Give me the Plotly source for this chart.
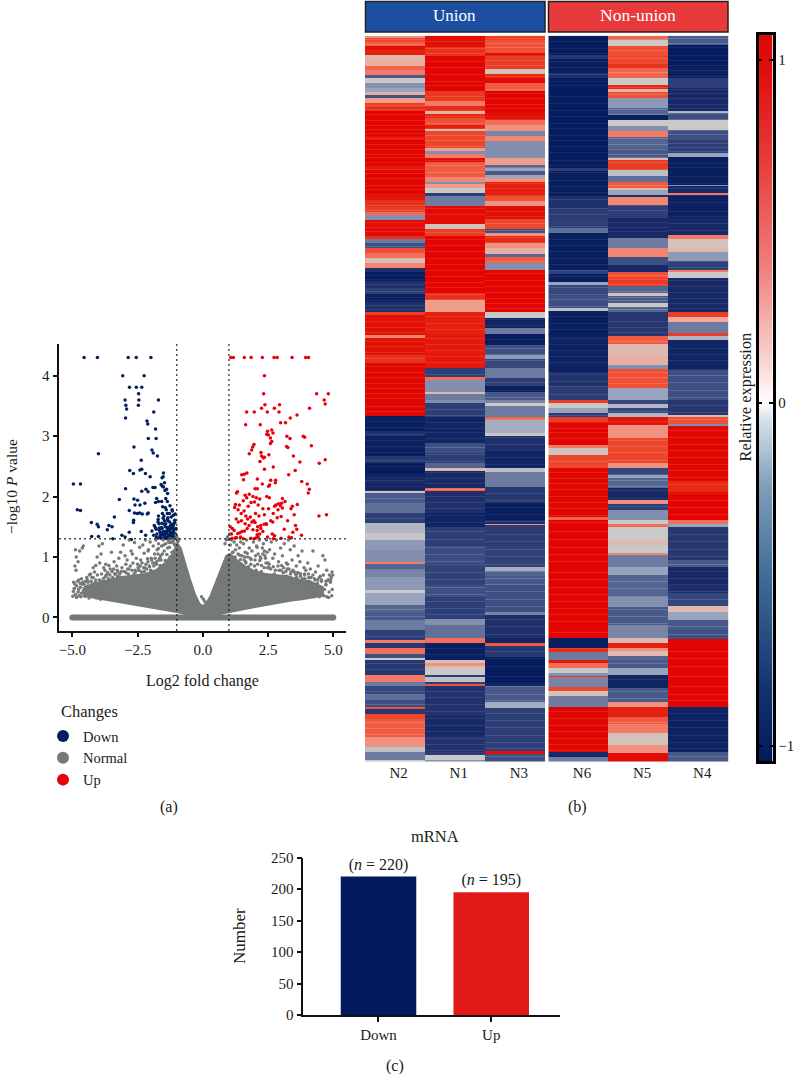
import plotly.graph_objects as go

W, H = 794, 1074
FONT = "Liberation Serif"

# ---------- (a) volcano ----------
down_x = [-4.55,-4.04,-2.86,-2.55,-1.99,-3.07,-2.25,-2.81,-2.55,-2.34,-2.46,-2.98,-1.7,-2.45,-2.95,-2.47,-2.92,-1.88,-2.96,-2.14,-2.11,-1.81,-2.09,-1.79,-2.64,-1.95,-1.9,-4.0,-1.74,-2.36,-2.41,-2.34,-2.8,-2.66,-2.2,
 -1.51,-1.52,-1.56,-2.02,-1.47,-1.6,-1.55,-4.96,-4.69,-2.96,-1.91,-1.83,-2.18,-2.34,-2.1,-1.51,-1.39,-1.45,-1.35,-2.64,-3.2,-2.5,-2.6,-2.22,-2.41,-1.77,-1.7,-1.81,-1.58,-1.42,-1.36,
 -2.82,-2.62,-2.51,-2.42,-2.32,-2.13,-2.09,-4.81,-4.69,-3.39,-2.65,-2.66,-4.27,-4.05,-4.0,-3.6,-3.48,-3.66,-2.36,-2.82,-2.19,-3.1,-2.98,-4.26,-4.0,-3.45,-2.74,
 -1.95,-1.88,-1.82,-1.76,-1.71,-1.66,-1.61,-1.57,-1.53,-1.49,-1.46,-1.43,-1.4,-1.37,-1.34,-1.31,-1.28,-1.25,-1.22,-1.19,-1.16,-1.13,-1.1,-1.07,-1.04,
 -1.86,-1.79,-1.74,-1.68,-1.63,-1.59,-1.55,-1.51,-1.47,-1.44,-1.41,-1.38,-1.35,-1.32,-1.29,-1.26,-1.23,-1.2,-1.17,-1.14,-1.11,-1.08,
 -1.78,-1.72,-1.67,-1.62,-1.58,-1.54,-1.5,-1.46,-1.42,-1.39,-1.36,-1.33,-1.3,-1.27,-1.24,-1.21,-1.18,-1.15,-1.12,-1.09,-1.06,
 -1.7,-1.64,-1.56,-1.48,-1.44,-1.4,-1.34,-1.3,-1.26,-1.22,-1.18,-1.14,-1.1,-1.05,-1.6,-1.52,-1.45,-1.37,-1.31,-1.27,-1.2,-1.13,-1.03,-1.44,-1.33,-1.24,-1.16]
down_y = [4.3,4.3,4.3,4.3,4.3,4.0,4.0,3.81,3.81,3.81,3.7,3.6,3.6,3.6,3.51,3.51,3.45,3.4,3.3,3.25,3.2,3.12,2.96,2.96,2.82,2.77,2.72,2.71,2.67,2.6,2.44,2.45,2.43,2.38,2.38,
 2.39,2.33,2.31,2.33,2.23,2.2,2.17,2.21,2.21,2.13,2.15,2.15,2.12,2.09,2.08,2.16,2.12,2.1,2.05,1.96,1.95,1.94,1.86,1.89,1.86,1.97,1.92,1.9,1.92,1.97,1.92,
 1.77,1.73,1.72,1.73,1.71,1.71,1.73,1.78,1.77,1.66,1.61,1.57,1.57,1.54,1.5,1.52,1.5,1.45,1.42,1.41,1.36,1.36,1.33,1.34,1.34,1.3,1.29,
 1.43,1.36,1.49,1.38,1.62,1.44,1.33,1.56,1.41,1.68,1.35,1.5,1.78,1.32,1.6,1.43,1.72,1.34,1.52,1.37,1.47,1.69,1.33,1.57,1.38,
 1.52,1.46,1.31,1.55,1.41,1.31,1.72,1.36,1.6,1.82,1.42,1.31,1.63,1.47,1.35,1.85,1.41,1.54,1.76,1.32,1.44,1.61,
 1.33,1.58,1.48,1.36,1.49,1.83,1.42,1.33,1.55,1.39,1.72,1.45,1.31,1.58,1.38,1.66,1.35,1.49,1.4,1.31,1.71,
 1.68,1.34,1.47,1.54,1.33,1.43,1.65,1.37,1.51,1.31,1.78,1.41,1.56,1.35,1.39,1.64,1.31,1.49,1.35,1.44,1.33,1.52,1.47,1.38,1.31,1.47,1.35]

up_x = [1.07,1.17,1.59,1.85,2.28,2.73,2.85,3.42,3.94,4.05,2.36,2.33,4.36,4.81,4.65,4.69,2.38,2.94,2.74,2.25,4.09,1.68,1.97,2.47,2.92,3.61,3.35,2.98,3.17,1.64,2.2,2.64,2.48,2.45,2.51,2.69,3.22,3.85,3.9,2.59,2.64,3.34,2.59,1.96,4.16,1.91,3.21,3.26,1.87,2.23,1.78,3.47,2.53,2.25,2.32,2.36,4.69,2.19,3.72,4.46,2.7,2.36,3.54,1.69,1.59,1.49,3.29,2.09,1.56,3.79,2.79,2.6,2.78,2.28,2.56,4.0,2.52,4.08,2.0,2.09,4.04,1.33,1.29,
 1.62,1.78,1.92,2.05,2.18,2.45,2.55,2.8,3.05,3.15,3.02,3.62,3.43,2.9,2.75,1.25,1.4,1.55,1.68,1.74,1.85,1.98,2.12,2.3,2.52,2.7,2.88,2.97,3.05,3.38,4.74,4.45,3.5,
 1.22,1.35,1.47,1.58,1.65,1.72,1.82,1.95,2.02,2.15,2.36,2.42,2.6,2.85,3.0,3.25,3.55,1.05,1.13,1.28,1.36,1.48,1.62,1.77,1.88,2.0,2.1,2.22,2.35,2.44,2.68,3.12,3.45,3.6,
 1.1,1.2,1.3,1.42,1.55,1.7,1.92,2.08,2.18,2.3,2.48,2.66,3.4,3.78,1.12,1.25,1.34,1.45,1.6,1.84,2.05,2.12,2.22,2.75,3.0,3.3,1.5,1.96,2.08,2.7]
up_y = [4.3,4.3,4.3,4.3,4.3,4.3,4.3,4.3,4.3,4.3,4.0,3.7,3.7,3.7,3.6,3.53,3.52,3.52,3.46,3.46,3.46,3.4,3.4,3.4,3.4,3.35,3.3,3.22,3.22,3.19,3.19,3.1,3.08,3.03,3.02,3.05,3.0,3.0,2.98,2.97,2.91,2.96,2.88,2.86,2.84,2.82,2.83,2.81,2.77,2.73,2.71,2.67,2.69,2.67,2.64,2.65,2.61,2.58,2.57,2.55,2.49,2.45,2.43,2.39,2.37,2.36,2.36,2.29,2.28,2.25,2.27,2.27,2.23,2.21,2.19,2.21,2.17,2.12,2.13,2.13,2.06,2.08,2.06,
 2.02,2.04,2.0,1.98,1.96,2.0,1.98,1.86,1.97,1.92,1.89,1.87,1.84,1.88,1.84,1.87,1.86,1.93,1.98,1.84,1.9,1.91,1.86,1.8,1.8,1.72,1.78,1.85,1.81,1.8,1.7,1.68,1.7,
 1.82,1.78,1.72,1.76,1.68,1.63,1.66,1.6,1.72,1.68,1.7,1.55,1.6,1.65,1.67,1.6,1.52,1.5,1.47,1.63,1.58,1.6,1.55,1.52,1.58,1.57,1.5,1.52,1.54,1.54,1.58,1.46,1.41,1.46,
 1.38,1.44,1.32,1.4,1.3,1.47,1.45,1.44,1.38,1.42,1.33,1.38,1.32,1.36,1.31,1.32,1.39,1.33,1.43,1.31,1.32,1.33,1.47,1.35,1.31,1.33,1.42,1.3,1.37,1.3]

# dense part of the "Normal" cloud, outline
cloud_x = [-4.6,-4.2,-3.8,-3.4,-3.0,-2.5,-2.0,-1.5,-1.0,-0.6,-0.3,0.0,0.3,0.6,1.0,1.5,2.0,2.5,3.0,3.4,3.8,4.2,4.6,
           4.6,4.2,3.9,3.6,3.2,2.8,2.4,2.0,1.6,1.3,1.05,0.9,0.7,0.5,0.3,0.12,0.0,-0.12,-0.3,-0.5,-0.7,-0.85,-0.98,-1.2,-1.45,-1.8,-2.2,-2.6,-3.1,-3.5,-3.9,-4.2,-4.6]
cloud_y = [0.36,0.33,0.3,0.28,0.25,0.21,0.17,0.13,0.09,0.05,0.0,0.0,0.0,0.05,0.09,0.13,0.17,0.21,0.25,0.28,0.3,0.33,0.36,
           0.5,0.58,0.6,0.64,0.68,0.7,0.72,0.76,0.85,0.95,1.05,1.02,0.8,0.6,0.36,0.22,0.19,0.22,0.38,0.64,0.92,1.15,1.22,1.02,0.9,0.78,0.72,0.7,0.67,0.63,0.58,0.56,0.48]
line0_x = [-5.0,5.0]
line0_y = [0.0,0.0]
normal_x = [-4.88,-4.85,-4.78,-4.72,-4.62,-4.58,-4.9,-4.86,-4.95,-4.8,-4.7,-4.6,-4.5,-4.42,-4.35,-4.25,-4.15,-4.1,-4.05,-3.98,-3.9,-3.85,-3.8,-3.72,-3.65,-3.55,-3.5,-3.4,-3.3,-3.22,-3.15,-3.05,-2.98,-2.9,-2.82,-2.75,-2.7,-2.62,-2.55,-2.5,-2.42,-2.38,-2.3,-2.25,-2.2,-2.12,-2.08,-2.02,-1.96,-1.9,-1.85,-1.8,-1.75,-1.7,-1.62,-1.58,-1.52,-1.48,-1.42,-1.38,-1.32,-1.28,-1.22,-1.18,-1.12,-1.08,
 -4.2,-3.95,-3.75,-3.6,-3.42,-3.25,-3.1,-3.0,-2.88,-2.78,-2.68,-2.6,-2.48,-2.4,-2.33,-2.27,-2.18,-2.1,-2.05,-1.98,-1.92,-1.83,-1.77,-1.72,-1.65,-1.6,-1.55,-2.95,-2.85,-2.72,-2.58,-2.45,-2.35,-2.22,-2.15,-2.0,-1.88,-1.78,-1.68,-3.35,-3.18,-3.7,-4.3,-4.45,-4.65,-4.75,
 1.05,1.1,1.15,1.2,1.25,1.3,1.35,1.4,1.45,1.5,1.56,1.62,1.68,1.72,1.78,1.82,1.88,1.94,2.0,2.06,2.12,2.16,2.22,2.28,2.32,2.38,2.44,2.5,2.56,2.62,2.68,2.75,2.82,2.9,2.98,3.05,3.12,3.2,3.28,3.35,3.42,3.5,3.58,3.65,3.72,3.8,3.88,3.95,4.02,4.12,4.22,4.32,4.42,4.5,4.6,4.68,4.75,4.85,4.92,4.95,
 1.18,1.32,1.48,1.58,1.65,1.75,1.85,1.98,2.1,2.18,2.25,2.35,2.42,2.48,2.54,2.6,2.7,2.78,2.88,3.0,3.1,3.18,3.3,3.38,3.45,3.55,3.62,3.75,3.9,4.05,4.15,4.28,4.4,4.55,4.72,4.82,2.2,2.3,2.36,2.4,2.46,2.02,2.08,1.7,1.6,1.42,1.28,3.02,3.25,3.5,
 -0.98,-1.02,-1.06,-0.96,0.98,0.94,1.02,-1.1,-1.15,-1.3,-1.5,-1.7,-2.1,-1.25,-1.35,-0.92,0.85,0.9,0.02,0.08,-0.05,-4.92,-4.55,-4.35,-3.88,
 -4.98,-4.93,-4.88,-4.83,-4.78,-4.74,-4.69,-4.65,-4.61,-4.56,-4.52,-4.48,-4.44,-4.4,-4.36,-4.32,-4.28,-4.24,-4.2,-4.16,-4.12,-4.08,-4.04,-4.0,-3.96,-3.92,-3.88,-3.84,-3.8,-3.76,-3.72,-3.68,-3.64,-3.6,-3.56,-3.52,-3.48,-3.44,-3.38,-3.33,-3.28,-3.2,-3.12,-3.02,-2.94,-2.84,-2.74,-2.64,-2.54,-2.44,-2.34,-2.24,-2.14,-2.04,-1.94,-1.84,-1.74,-1.64,-1.54,-1.44,-1.36,-1.26,-1.16,
 -4.96,-4.9,-4.84,-4.76,-4.67,-4.58,-4.5,-4.42,-4.34,-4.26,-4.18,-4.1,-4.02,-3.94,-3.86,-3.78,-3.7,-3.62,-3.54,-3.46,-3.36,-3.26,-3.14,
 4.98,4.94,4.89,4.84,4.8,4.75,4.71,4.66,4.62,4.58,4.54,4.5,4.46,4.42,4.38,4.34,4.3,4.26,4.22,4.18,4.14,4.1,4.06,4.02,3.98,3.94,3.9,3.86,3.82,3.78,3.74,3.7,3.66,3.62,3.58,3.54,3.48,3.42,3.36,3.3,3.24,3.16,3.08,3.0,2.92,2.84,2.74,2.64,2.54,2.44,2.34,2.24,2.14,2.04,1.94,1.84,1.74,1.64,1.54,1.44,1.34,1.24,1.14,
 4.96,4.9,4.82,4.72,4.64,4.55,4.47,4.39,4.31,4.23,4.15,4.07,3.99,3.91,3.83,3.75,3.67,3.59,3.51,3.44,3.34,3.22,3.1]
normal_y = [1.12,1.0,0.92,1.1,1.15,1.18,0.85,0.78,0.58,0.6,0.56,0.58,0.6,0.62,0.7,0.66,0.75,0.86,1.0,1.18,1.05,1.22,0.82,0.88,0.74,0.8,1.08,0.92,0.85,0.98,1.08,1.2,1.02,0.95,1.28,1.1,1.05,1.24,0.98,0.88,1.16,0.95,1.2,1.06,1.28,0.97,1.12,1.25,0.95,1.18,1.05,1.28,1.12,1.22,1.02,1.18,1.28,1.1,1.22,1.04,1.27,1.16,1.24,1.08,1.28,1.2,
 0.82,0.9,0.78,0.86,0.8,0.75,0.82,0.76,0.8,0.85,0.9,0.78,0.82,0.85,0.9,0.82,0.88,0.92,0.85,0.98,0.9,0.98,0.92,1.05,0.98,0.95,1.05,0.88,0.72,0.78,0.75,0.78,0.75,0.82,0.8,0.78,0.85,0.88,0.95,0.72,0.72,0.7,0.72,0.66,0.64,0.62,
 1.2,1.28,1.08,1.25,1.12,1.2,1.05,1.15,1.25,1.02,1.22,1.08,1.28,1.0,1.15,0.98,1.1,1.25,0.95,1.18,1.05,1.28,0.98,1.15,1.22,1.02,1.28,0.9,1.12,1.25,0.98,1.05,1.28,0.92,1.15,1.02,1.22,0.9,1.28,1.12,0.95,1.18,0.85,1.02,0.92,1.1,0.82,0.78,0.9,0.8,1.1,0.75,0.85,0.68,1.02,0.95,0.78,0.7,0.66,0.75,
 0.95,0.92,0.88,0.95,0.9,0.84,0.96,0.85,0.88,0.94,0.86,0.82,0.9,0.82,0.88,0.8,0.84,0.78,0.85,0.78,0.82,0.76,0.8,0.75,0.78,0.72,0.74,0.72,0.7,0.72,0.66,0.64,0.62,0.62,0.6,0.62,1.0,1.05,1.1,0.98,1.08,1.02,1.16,1.06,1.0,1.03,0.9,0.86,0.88,0.75,
 1.32,1.36,1.3,1.25,1.3,1.33,1.38,1.22,1.26,1.24,1.2,1.14,1.1,1.3,1.15,1.28,1.22,1.28,0.3,0.26,0.34,0.48,0.55,0.5,0.6,
 0.35,0.48,0.38,0.52,0.42,0.36,0.5,0.4,0.55,0.44,0.35,0.5,0.38,0.58,0.32,0.46,0.6,0.36,0.66,0.48,0.58,0.32,0.7,0.44,0.62,0.3,0.72,0.5,0.65,0.38,0.68,0.58,0.74,0.34,0.7,0.6,0.76,0.52,0.72,0.63,0.78,0.66,0.76,0.62,0.74,0.8,0.66,0.72,0.62,0.78,0.68,0.76,0.7,0.84,0.76,0.9,0.74,0.86,0.8,0.94,0.88,1.0,1.08,
 0.43,0.55,0.33,0.46,0.34,0.44,0.36,0.52,0.42,0.54,0.4,0.62,0.52,0.58,0.42,0.6,0.44,0.64,0.4,0.66,0.62,0.68,0.66,
 0.7,0.36,0.58,0.42,0.62,0.34,0.54,0.46,0.7,0.38,0.6,0.44,0.66,0.36,0.52,0.4,0.62,0.34,0.7,0.46,0.58,0.36,0.66,0.44,0.6,0.34,0.72,0.5,0.64,0.38,0.68,0.56,0.74,0.42,0.7,0.6,0.76,0.52,0.72,0.64,0.8,0.68,0.74,0.62,0.78,0.66,0.72,0.64,0.82,0.7,0.62,0.76,0.66,0.78,0.7,0.88,0.76,0.92,0.82,0.96,0.86,1.0,1.08,
 0.46,0.62,0.33,0.54,0.36,0.48,0.34,0.56,0.4,0.52,0.37,0.6,0.44,0.64,0.4,0.56,0.38,0.66,0.42,0.62,0.66,0.68,0.64]

# ---------- (b) heat map: each pair is (last row of the band, value) ----------
N2 = [(2,.3),(6,.65),(10,.55),(15,.92),(19,.85),(24,.12),(30,.18),(34,.5),(39,.4),(42,-.55),(47,.02),(52,-.28),(56,-.2),(59,.15),(62,-.6),(67,.25),(71,.7),(75,.78),(100,.98),(104,.9),(130,.98),(134,.88),(160,.97),(165,.9),(171,.75),(176,.68),(179,.45),(184,-.3),(200,.95),(203,.75),(207,-.4),(212,-.6),(217,.6),(222,.45),(227,.1),(232,.35),(236,-.8),(245,-.97),(252,-.8),(258,-.7),(266,-.95),(276,-.8),(279,.7),(299,.92),(302,.35),(319,.92),(327,.75),(364,.97),(380,.97),(395,-.95),(400,-.8),(412,-.92),(420,-.95),(427,-.75),(440,-.97),(449,-.85),(455,-.9),(457,.05),(467,-.55),(477,-.45),(487,-.7),(497,-.1),(504,-.02),(514,-.25),(526,-.3),(528,.4),(534,-.5),(541,-.35),(549,-.25),(554,-.25),(557,0),(569,-.2),(576,-.5),(584,-.55),(594,-.4),(604,-.7),(607,.4),(612,-.75),(618,.45),(622,-.6),(624,0),(639,-.75),(646,.4),(650,-.4),(658,-.65),(664,-.45),(671,-.6),(673,.6),(678,-.75),(683,.65),(689,.55),(701,.55),(711,.3),(716,-.05),(724,-.4),(726,0)]
N1 = [(11,.93),(20,.75),(55,.98),(65,.72),(70,.4),(75,.8),(78,.15),(82,.8),(89,.6),(93,.85),(95,.1),(112,.65),(115,.25),(118,-.3),(122,.4),(126,.95),(141,.55),(146,.35),(148,-.3),(152,.25),(157,.0),(160,-.7),(170,-.4),(188,.95),(193,.05),(200,.7),(257,.98),(264,.75),(276,.25),(299,.85),(332,.88),(341,-.7),(344,.45),(356,-.3),(358,.1),(364,-.4),(367,-.3),(381,-.7),(407,-.9),(417,-.6),(427,-.7),(432,-.5),(435,.1),(452,-.85),(455,.5),(477,-.8),(491,-.9),(510,-.7),(530,-.62),(549,-.68),(561,-.6),(583,-.7),(589,-.3),(602,-.45),(607,.45),(624,-.95),(627,.05),(630,.3),(632,.1),(639,.0),(641,-.7),(646,-.05),(648,-.7),(650,.6),(680,-.78),(700,-.85),(716,-.78),(719,-.7),(724,0),(726,-.3)]
N3 = [(4,.7),(17,.6),(20,.95),(33,.7),(38,.05),(42,.8),(47,.95),(55,.55),(79,.98),(84,.9),(89,.45),(95,.3),(100,-.35),(105,.35),(122,-.3),(129,.25),(132,-.5),(135,-.2),(139,-.55),(142,-.2),(146,.3),(160,.85),(165,.6),(170,.3),(183,.93),(193,.65),(197,-.6),(200,.3),(207,.8),(212,.3),(218,.15),(221,-.5),(227,.55),(234,-.3),(276,.98),(282,.0),(292,-.9),(298,-.4),(309,-.95),(319,-.6),(323,-.25),(332,-.65),(342,-.4),(350,-.7),(356,-.95),(364,-.55),(367,-.35),(370,0),(381,-.4),(384,.5),(397,-.15),(400,0),(414,-.8),(432,-.9),(436,-.05),(451,-.4),(467,-.75),(484,-.95),(488,-.8),(489,.3),(510,-.72),(531,-.68),(535,-.15),(540,-.5),(549,-.55),(576,-.6),(579,-.35),(602,-.8),(607,-.9),(610,.55),(621,-.75),(647,-.97),(650,-.9),(666,-.55),(672,-.15),(715,-.7),(718,.95),(726,-.6)]
N6 = [(19,-.97),(23,-.75),(37,-.95),(42,-.8),(132,-.97),(135,-.7),(160,-.95),(172,-.8),(182,-.72),(192,-.7),(197,-.45),(234,-.95),(238,-.7),(246,-.95),(249,-.2),(260,-.65),(272,-.6),(275,-.05),(299,-.95),(336,-.92),(350,-.78),(364,-.72),(367,.7),(372,.0),(377,-.2),(381,-.7),(386,.7),(409,.97),(412,.4),(419,.05),(432,.65),(481,.96),(484,.5),(549,.98),(602,.98),(612,-.95),(616,.8),(624,-.4),(627,.9),(632,.45),(637,.0),(640,-.3),(641,.75),(651,-.35),(655,.65),(660,.05),(671,-.4),(716,.97),(721,-.85),(726,-.4)]
N5 = [(4,.5),(10,.0),(20,.6),(27,.65),(32,.75),(42,.5),(49,.0),(53,.8),(56,.15),(62,.6),(72,-.25),(79,-.5),(84,-.95),(90,.0),(95,-.3),(101,.4),(112,-.5),(122,-.55),(124,.1),(134,.7),(140,-.05),(146,-.45),(152,.55),(154,.1),(159,-.2),(161,-.8),(169,.35),(182,-.7),(202,-.85),(212,-.4),(221,.35),(229,-.6),(236,-.85),(242,.6),(250,.7),(257,-.5),(260,.05),(267,-.55),(271,0),(276,-.5),(300,-.75),(308,.55),(319,.1),(329,.15),(333,-.3),(352,.6),(364,-.2),(368,-.65),(372,-.1),(377,-.65),(381,-.1),(389,.9),(402,.3),(409,.65),(427,.65),(432,.3),(439,-.65),(442,-.2),(452,-.5),(464,-.85),(468,.3),(474,-.7),(484,-.3),(488,0),(491,.45),(504,0),(509,.1),(517,0),(519,.35),(531,-.4),(539,-.2),(549,-.5),(561,-.5),(571,-.3),(589,-.55),(602,-.35),(607,.1),(612,.85),(615,.3),(620,.1),(624,-.5),(632,-.55),(639,-.2),(652,-.9),(666,-.55),(671,.3),(681,.85),(688,.55),(697,.4),(709,.05),(717,.3),(726,.95)]
N4 = [(9,-.55),(30,-.97),(42,-.95),(52,-.7),(75,-.85),(77,-.1),(84,-.6),(94,.0),(104,-.6),(117,-.7),(121,-.2),(149,-.95),(150,-.3),(157,-.85),(159,.4),(182,-.93),(199,-.85),(203,.4),(212,.05),(216,.1),(225,-.25),(234,-.7),(236,.4),(242,0),(276,-.85),(281,.7),(286,.2),(297,-.4),(300,.7),(304,-.1),(334,-.9),(364,-.6),(379,-.75),(381,.1),(388,.6),(390,-.3),(445,.96),(456,.8),(484,.98),(488,.45),(491,-.2),(524,-.75),(531,-.55),(549,-.85),(557,-.8),(570,-.65),(576,.1),(584,-.2),(594,-.55),(603,-.6),(671,.98),(674,-.9),(716,-.92),(726,-.55)]
streak_a = [3,8,14,22,27,36,44,51,58,64,69,73,78,84,89,93,97,102,108,113,118,121,126,133,137,142,149,153,158,164,169,174,186,191,195,205,210,219,239,243,248,255,261,264,269,273,285,291,296,305,310,316,322,330,336,341,347,352,357,362,370,375,385,391,398,404,410,416,424,430,438,444,450,454,462,470,474,482,493,500,508,516,521,533,538,545,552,560,566,573,580,587,592,600,627,633,643,655,662,668,686,692,698,705,713]
streak_b = [5,12,17,25,31,38,45,49,60,67,74,80,87,92,99,104,110,116,124,129,136,144,150,156,163,172,178,190,196,203,209,215,222,228,234,240,246,251,258,263,270,280,287,293,302,308,314,320,326,338,345,350,358,373,379,386,392,396,402,411,418,425,436,442,447,453,460,466,472,479,486,495,503,511,518,525,536,543,551,558,565,572,578,585,596,612,618,628,636,655,661,668,675,682,689,695,702,708,714]
streak_c = [2,7,11,19,24,29,34,40,53,57,62,68,72,77,83,88,94,98,107,111,115,127,131,140,147,152,159,166,175,180,187,194,201,206,213,217,225,231,237,244,250,256,262,267,272,283,289,295,303,312,318,324,333,339,346,354,361,369,376,383,389,394,401,408,414,421,428,434,441,448,457,464,471,478,485,498,505,513,520,528,535,542,548,555,563,570,577,583,590,598,615,622,630,640,650,658,664,677,684,691,699,706,712,720]

heat_rows = 726
left_cols = ["N2","N1","N3"]
right_cols = ["N6","N5","N4"]
col_pos = [0,1,2]

def expand(bands, streaks):
    col, start = [], 0
    for end, val in bands:
        col += [val] * (end - start)
        start = end
    col += [col[-1]] * (heat_rows - len(col))
    for r in streaks:
        v = col[r]
        if abs(v) >= .5:
            col[r] = v - (0.13 if v > 0 else -0.13)
    return col

columns = {"N2":expand(N2,streak_a),"N1":expand(N1,streak_b),"N3":expand(N3,streak_c),
           "N6":expand(N6,streak_b),"N5":expand(N5,streak_a),"N4":expand(N4,streak_c)}
rows = list(range(heat_rows))

HEAT_SCALE = [[0,"#001a5c"],[.1,"#1f2f6a"],[.2,"#3d4f83"],[.3,"#6d7ba0"],[.4,"#98a3bd"],[.5,"#c9c9c7"],
              [.6,"#f0a898"],[.7,"#f27a66"],[.8,"#ee4f35"],[.9,"#e62a14"],[1,"#e00000"]]
bar_levels = [-1.05,-0.95,-0.85,-0.75,-0.65,-0.55,-0.45,-0.35,-0.25,-0.15,-0.05,0.0,0.05,0.15,0.25,0.35,0.45,0.55,0.65,0.75,0.85,0.95,1.08]
BAR_SCALE = [[0,"#001a5c"],[.1,"#12326e"],[.25,"#3d6a97"],[.38,"#7f9fba"],[.47,"#d6e2ea"],[.4930,"#ffffff"],
             [.55,"#f9d5d3"],[.68,"#ef7f7c"],[.82,"#e63e3c"],[.95,"#df0d0d"],[1,"#dd0a0a"]]

# ---------- (c) bars ----------
bar_cats = ["Down","Up"]
bar_vals = [220,195]
bar_notes = ["(<i>n</i> = 220)","(<i>n</i> = 195)"]

NAVY, RED, GREY = "#02205f", "#e8000b", "#757979"
def X(p): return p / W
def Y(p): return 1 - p / H

fig = go.Figure()
fig.add_trace(go.Scatter(x=cloud_x, y=cloud_y, mode="lines", fill="toself", fillcolor=GREY, line=dict(color=GREY, width=2),
                         showlegend=False, hoverinfo="skip", xaxis="x", yaxis="y"))
fig.add_trace(go.Scatter(x=line0_x, y=line0_y, mode="lines+markers", line=dict(color=GREY, width=6), marker=dict(color=GREY, size=6),
                         showlegend=False, hoverinfo="skip", xaxis="x", yaxis="y"))
fig.add_trace(go.Scatter(x=down_x, y=down_y, mode="markers", name="Down", marker=dict(color=NAVY, size=3.5), xaxis="x", yaxis="y"))
fig.add_trace(go.Scatter(x=normal_x, y=normal_y, mode="markers", name="Normal", marker=dict(color=GREY, size=3.5), xaxis="x", yaxis="y"))
fig.add_trace(go.Scatter(x=up_x, y=up_y, mode="markers", name="Up", marker=dict(color=RED, size=3.5), xaxis="x", yaxis="y"))
for cols, xa, ya in ((left_cols,"x2","y2"),(right_cols,"x3","y3")):
    fig.add_trace(go.Heatmap(z=[[columns[c][r] for c in cols] for r in rows], x=col_pos, y=rows, zmin=-1, zmax=1,
                             colorscale=HEAT_SCALE, showscale=False, xaxis=xa, yaxis=ya, hovertemplate="%{z}<extra></extra>"))
fig.add_trace(go.Heatmap(z=[[v] for v in bar_levels], y=bar_levels, x=[0], zmin=-1.05, zmax=1.08, zsmooth="best",
                         colorscale=BAR_SCALE, showscale=False, xaxis="x4", yaxis="y4", hoverinfo="skip"))
fig.add_trace(go.Bar(x=bar_cats, y=bar_vals, width=.67, marker=dict(color=["#021a5e","#e21a17"], line=dict(width=0)),
                     text=bar_notes, texttemplate="%{text}", textposition="outside", cliponaxis=False,
                     textfont=dict(family=FONT, size=16, color="#1a1a1a"), showlegend=False, xaxis="x5", yaxis="y5"))

tf = dict(family=FONT, size=15, color="#1a1a1a")
def axis(**k):
    d = dict(showgrid=False, zeroline=False, showline=True, linecolor="#111", linewidth=1.5, ticks="outside",
             tickcolor="#111", tickwidth=1.5, ticklen=5, tickfont=tf, anchor="free")
    d.update(k)
    return d
def note(px, py, text, size, color="#1a1a1a", angle=0, xanchor="center"):
    return dict(xref="paper", yref="paper", x=X(px), y=Y(py), text=text, showarrow=False, textangle=angle,
                xanchor=xanchor, yanchor="middle", font=dict(family=FONT, size=size, color=color))
DOT = dict(color="#111", width=1.5, dash="1.5px,3.5px")

layout = dict(
    width=W, height=H, margin=dict(l=0,r=0,t=0,b=0,autoexpand=False), autosize=False, paper_bgcolor="white", plot_bgcolor="white",
    font=dict(family=FONT, size=15, color="#1a1a1a"),
    legend=dict(x=X(43), y=Y(720), xanchor="left", yanchor="top", itemsizing="constant", font=dict(family=FONT,size=14.5),
                tracegroupgap=0, bgcolor="rgba(0,0,0,0)", itemwidth=30),
    xaxis=axis(domain=[X(59.3),X(345.7)], range=[-5.5,5.475], tickvals=[-5,-2.5,0,2.5,5], tickformat=".1f", anchor="y"),
    yaxis=axis(domain=[Y(630.7),Y(344)], range=[-0.22,4.525], tickvals=[0,1,2,3,4], anchor="x"),
    xaxis2=dict(domain=[X(365),X(545.3)], range=[-.5,2.5], tickvals=[.06,1.06,2.06], ticktext=left_cols, showgrid=False, zeroline=False, tickfont=tf, anchor="y2", ticks=""),
    yaxis2=dict(domain=[Y(761.7),Y(35.7)], range=[heat_rows-.5,-.5], visible=False, anchor="x2"),
    xaxis3=dict(domain=[X(548.3),X(728.7)], range=[-.5,2.5], tickvals=[.06,1.06,2.06], ticktext=right_cols, showgrid=False, zeroline=False, tickfont=tf, anchor="y3", ticks=""),
    yaxis3=dict(domain=[Y(761.7),Y(35.7)], range=[heat_rows-.5,-.5], visible=False, anchor="x3"),
    xaxis4=dict(domain=[X(758.5),X(772.5)], range=[-.5,.5], showticklabels=False, ticks="", showgrid=False, zeroline=False, showline=True, linecolor="#000", linewidth=2.5, mirror=True, anchor="y4"),
    yaxis4=dict(domain=[Y(761),Y(34.5)], range=[-1.045,1.073], side="right", tickvals=[-1,0,1], ticktext=["−1","0","1"], ticks="inside", ticklen=4, tickwidth=1.5, tickcolor="#000",
                showgrid=False, zeroline=False, showline=True, linecolor="#000", linewidth=2.5, mirror="ticks", tickfont=tf, anchor="x4"),
    xaxis5=axis(domain=[X(303.3),X(560)], range=[-.667,1.61], type="category", categoryorder="array", categoryarray=bar_cats, anchor="y5"),
    yaxis5=axis(domain=[Y(1015),Y(857.7)], range=[0,250], tickvals=[0,50,100,150,200,250], anchor="x5"),
    shapes=[
        dict(type="line", xref="x", yref="paper", x0=-1, x1=-1, y0=Y(630.7), y1=Y(344), line=DOT),
        dict(type="line", xref="x", yref="paper", x0=1, x1=1, y0=Y(630.7), y1=Y(344), line=DOT),
        dict(type="line", xref="paper", yref="y", x0=X(59.3), x1=X(345.7), y0=1.3, y1=1.3, line=DOT),
        dict(type="rect", xref="paper", yref="paper", x0=X(365.5), x1=X(545), y0=Y(32), y1=Y(1.5), fillcolor="#1c4fa0", line=dict(color="#222",width=1.5)),
        dict(type="rect", xref="paper", yref="paper", x0=X(548.5), x1=X(728), y0=Y(32), y1=Y(1.5), fillcolor="#e8393b", line=dict(color="#222",width=1.5)),
    ],
    annotations=[
        note(455,15,"Union",17,"white"),
        note(638,15,"Non-union",17.5,"white"),
        note(745,397.5,"Relative expression",16.4,angle=-90),
        note(11,487,"−log10 <i>P</i> value",15.5,angle=-90),
        note(202,681,"Log2 fold change",16),
        note(59,711,"Changes",16.5,xanchor="left"),
        note(239,936,"Number",17,angle=-90),
        note(435,836,"mRNA",16.5),
        note(169,807,"(a)",16),
        note(577,807,"(b)",16),
        note(395,1066,"(c)",16),
    ],
)
fig.update_layout(**layout)
fig.write_html("out.html", config=dict(displayModeBar=False), post_script="document.body.style.margin='0';document.body.style.overflow='hidden';")
